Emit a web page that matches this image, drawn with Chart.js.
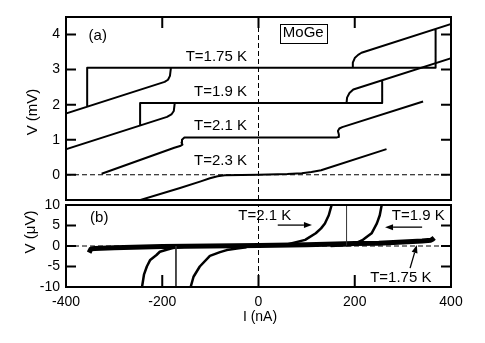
<!DOCTYPE html>
<html><head><meta charset="utf-8">
<script src="https://cdn.jsdelivr.net/npm/chart.js@4"></script>
<style>
html,body{margin:0;padding:0;background:#fff;}
#wrap{position:relative;width:485px;height:343px;background:#fff;}
canvas{position:absolute;left:0;top:0;}
</style></head><body>
<div id="wrap"><canvas id="ca" width="485" height="343"></canvas><canvas id="cb" width="485" height="343"></canvas></div>
<script>
// ---- axis ticks ----
const xTicks = [-400, -200, 0, 200, 400];
const yTicksA = [0, 1, 2, 3, 4];
const yTicksB = [-10, -5, 0, 5, 10];

// ---- panel (a): I (nA) vs V (mV); null = pen up ----
const a175_I = [-356, -356, 368, 368, null, -420, -195, -188, -184, -182, null, 195, 196, 200, 207, 214, 420];
const a175_V = [1.95, 3.05, 3.05, 4.16, null, 1.66, 2.65, 2.71, 2.82, 3.05, null, 3.05, 3.2, 3.33, 3.42, 3.48, 4.39];
const a19_I = [-246, -246, 257, 257, null, -420, -190, -181, -176, -174, null, 183, 184, 189, 197, 420];
const a19_V = [1.41, 2.05, 2.05, 2.69, null, 0.64, 1.65, 1.72, 1.82, 2.05, null, 2.05, 2.2, 2.33, 2.43, 3.41];
const a21_I = [-326, -175, -163, -158, -160, -159, -154, 162, 166, 167, 165, 168, 174, 342];
const a21_V = [0.03, 0.77, 0.82, 0.86, 0.92, 1.0, 1.06, 1.06, 1.08, 1.15, 1.25, 1.32, 1.36, 2.09];
const a23_I = [-265, -163, -120, -101, -85, -70, 0, 60, 90, 110, 130, 266];
const a23_V = [-0.8, -0.38, -0.19, -0.1, -0.04, -0.015, 0, 0.02, 0.04, 0.08, 0.13, 0.73];

// ---- panel (b): I (nA) vs V (uV) ----
const b175_I = [-352, -348, -340, -300, -200, -100, 0, 100, 200, 250, 300, 340, 358, 362, 365];
const b175_V = [-1.6, -0.7, -0.6, -0.4, -0.1, 0, 0.1, 0.3, 0.6, 0.7, 1.0, 1.2, 1.4, 1.7, 2.0];
const b21_I = [-242, -238, -232, -225, -212, -205, -191, -178, -150, null, 0, 55, 97, 119, 130, 138, 146, 152];
const b21_V = [-10, -7, -5, -3.4, -2.2, -1.4, -0.9, -0.5, -0.1, null, 0, 0.25, 1.5, 3.1, 4.3, 5.5, 7.5, 10];
const b19_I = [-141, -135, -122, -101, -80, -66, -45, -25, null, 150, 194, 217, 235, 246, 252, 256];
const b19_V = [-10, -7.5, -5, -2.4, -1.5, -1, -0.6, -0.3, null, 0, 0.25, 1.5, 3.1, 5.5, 7.5, 10];
const bSwitch_I = [-171.5, -171.5, null, 183, 183];
const bSwitch_V = [0, -10, null, 0, 10];

// ---- reference (zero) lines ----
const zeroH_I = [-400, 400];
const zeroH_V = [0, 0];
const zeroVa_V = [-0.72, 4.5];
const zeroVb_V = [-10, 10];

const FONT = '"Liberation Sans", Arial, Helvetica, sans-serif';
Chart.defaults.font.family = FONT;
Chart.defaults.color = '#000';

function pts(I, V) { return I.map((x, i) => ({x: x, y: V[i]})); }
function ds(I, V, w, opts) {
  return Object.assign({data: pts(I, V), borderColor: '#000', borderWidth: w, pointRadius: 0,
    spanGaps: false, tension: 0, fill: false, borderJoinStyle: 'round', borderCapStyle: 'butt'}, opts || {});
}

const panelPlugin = {
  id: 'panel',
  afterDatasetsDraw(chart, args, o) {
    const {ctx, chartArea: a} = chart;
    const xs = chart.scales.x, ys = chart.scales.y;
    ctx.save();
    ctx.strokeStyle = '#000';
    ctx.lineWidth = 2;
    ctx.strokeRect(a.left, a.top, a.right - a.left, a.bottom - a.top);
    ctx.beginPath();
    for (const v of o.yTicks) {
      const py = ys.getPixelForValue(v);
      if (py <= a.top + 1 || py >= a.bottom - 1) continue;
      ctx.moveTo(a.left, py); ctx.lineTo(a.left + 10, py);
      ctx.moveTo(a.right, py); ctx.lineTo(a.right - 10, py);
    }
    for (const v of o.xTicks) {
      const px = xs.getPixelForValue(v);
      if (px <= a.left + 1 || px >= a.right - 1) continue;
      if (o.xEdge === 'top') { ctx.moveTo(px, a.top); ctx.lineTo(px, a.top + 11); }
      else { ctx.moveTo(px, a.bottom); ctx.lineTo(px, a.bottom - 12); }
    }
    ctx.stroke();
    // arrows
    ctx.lineWidth = 1.3;
    ctx.fillStyle = '#000';
    for (const ar of (o.arrows || [])) {
      const x1 = xs.getPixelForValue(ar.from[0]), y1 = ys.getPixelForValue(ar.from[1]);
      const x2 = xs.getPixelForValue(ar.to[0]), y2 = ys.getPixelForValue(ar.to[1]);
      const ang = Math.atan2(y2 - y1, x2 - x1);
      const L = 8, W = 3;
      ctx.beginPath(); ctx.moveTo(x1, y1);
      ctx.lineTo(x2 - L * Math.cos(ang), y2 - L * Math.sin(ang)); ctx.stroke();
      ctx.beginPath(); ctx.moveTo(x2, y2);
      ctx.lineTo(x2 - L * Math.cos(ang) + W * Math.sin(ang), y2 - L * Math.sin(ang) - W * Math.cos(ang));
      ctx.lineTo(x2 - L * Math.cos(ang) - W * Math.sin(ang), y2 - L * Math.sin(ang) + W * Math.cos(ang));
      ctx.closePath(); ctx.fill();
    }
    // notes
    ctx.font = '15px ' + FONT;
    ctx.textBaseline = 'middle';
    for (const n of (o.notes || [])) {
      const px = xs.getPixelForValue(n.x), py = ys.getPixelForValue(n.y);
      ctx.textAlign = n.align || 'left';
      ctx.fillText(n.text, px, py);
      if (n.box) {
        const w = ctx.measureText(n.text).width;
        ctx.lineWidth = 1;
        ctx.strokeRect(Math.round(px - w / 2 - 3) + 0.5, Math.round(py - 9) + 0.5, Math.round(w + 6), 19);
      }
    }
    // axis titles
    for (const t of (o.titles || [])) {
      ctx.save();
      ctx.font = t.size + 'px ' + FONT;
      ctx.textAlign = 'center';
      ctx.textBaseline = 'middle';
      ctx.translate(t.px, t.py);
      if (t.rot) ctx.rotate(-Math.PI / 2);
      ctx.fillText(t.text, 0, 0);
      ctx.restore();
    }
    ctx.restore();
  }
};

function yScale(min, max, ticks) {
  return {
    type: 'linear', min: min, max: max,
    afterBuildTicks: s => { s.ticks = ticks.map(v => ({value: v})); },
    afterFit: s => { s.width = 66; },
    grid: {display: false, drawTicks: false},
    border: {display: false},
    ticks: {font: {size: 14}, padding: 6, color: '#000'}
  };
}

const common = {
  responsive: false, animation: false, events: [],
  plugins: {legend: {display: false}, tooltip: {enabled: false}}
};

// Panel (a)
new Chart(document.getElementById('ca'), {
  type: 'line',
  data: {datasets: [
    ds(zeroH_I, zeroH_V, 1, {borderDash: [5, 3]}),
    ds([0, 0], zeroVa_V, 1, {borderDash: [5, 3]}),
    ds(a175_I, a175_V, 2),
    ds(a19_I, a19_V, 2),
    ds(a21_I, a21_V, 2),
    ds(a23_I, a23_V, 2)
  ]},
  options: Object.assign({}, common, {
    layout: {padding: {left: 0, top: 17, right: 34, bottom: 143}},
    scales: {
      x: {type: 'linear', min: -400, max: 400, display: false},
      y: yScale(-0.72, 4.5, yTicksA)
    },
    plugins: Object.assign({}, common.plugins, {panel: {
      yTicks: yTicksA, xTicks: xTicks, xEdge: 'top',
      notes: [
        {text: '(a)', x: -353, y: 3.97},
        {text: 'T=1.75 K', x: -24, y: 3.36, align: 'right'},
        {text: 'T=1.9 K', x: -24, y: 2.36, align: 'right'},
        {text: 'T=2.1 K', x: -24, y: 1.39, align: 'right'},
        {text: 'T=2.3 K', x: -24, y: 0.39, align: 'right'},
        {text: 'MoGe', x: 93, y: 4.04, align: 'center', box: true}
      ],
      titles: [{text: 'V (mV)', px: 33, py: 112, rot: true, size: 15}]
    }})
  }),
  plugins: [panelPlugin]
});

// Panel (b)
new Chart(document.getElementById('cb'), {
  type: 'line',
  data: {datasets: [
    ds(zeroH_I, zeroH_V, 1, {borderDash: [5, 3]}),
    ds([0, 0], zeroVb_V, 1, {borderDash: [5, 3]}),
    ds(bSwitch_I, bSwitch_V, 1, {borderColor: '#333'}),
    ds(b21_I, b21_V, 2.5),
    ds(b19_I, b19_V, 2.5),
    ds(b175_I, b175_V, 5)
  ]},
  options: Object.assign({}, common, {
    layout: {padding: {left: 0, top: 205, right: 34, bottom: 0}},
    scales: {
      x: {type: 'linear', min: -400, max: 400,
        afterBuildTicks: s => { s.ticks = xTicks.map(v => ({value: v})); },
        afterFit: s => { s.height = 56; },
        grid: {display: false, drawTicks: false},
        border: {display: false},
        ticks: {font: {size: 14}, padding: 7, color: '#000', maxRotation: 0}
      },
      y: yScale(-10, 10, yTicksB)
    },
    plugins: Object.assign({}, common.plugins, {panel: {
      yTicks: yTicksB, xTicks: xTicks, xEdge: 'bottom',
      notes: [
        {text: '(b)', x: -350, y: 6.8},
        {text: 'T=2.1 K', x: -42, y: 7.3},
        {text: 'T=1.9 K', x: 277, y: 7.3},
        {text: 'T=1.75 K', x: 232, y: -7.8}
      ],
      arrows: [
        {from: [40, 5.1], to: [111, 5.1]},
        {from: [340, 4.6], to: [263, 4.6]},
        {from: [315, -5.4], to: [329, 0.25]}
      ],
      titles: [
        {text: 'V (\u03bcV)', px: 31, py: 232, rot: true, size: 15},
        {text: 'I (nA)', px: 260, py: 317, rot: false, size: 14}
      ]
    }})
  }),
  plugins: [panelPlugin]
});
</script>
</body></html>
